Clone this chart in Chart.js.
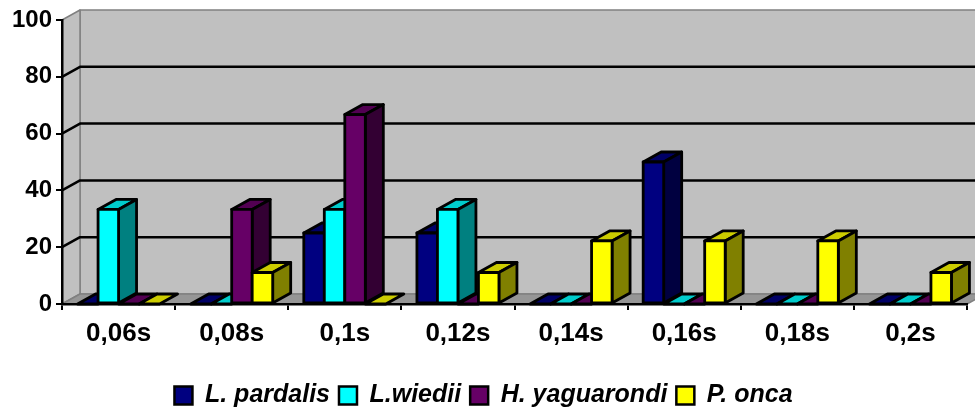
<!DOCTYPE html>
<html>
<head>
<meta charset="utf-8">
<script src="https://cdn.jsdelivr.net/npm/chart.js@4"></script>
<style>
  html, body { margin: 0; padding: 0; background: #fff; }
</style>
</head>
<body>
<canvas id="grafico" width="975" height="411"></canvas>
<script>
// dados (%)
const intervalos = ['0,06s', '0,08s', '0,1s', '0,12s', '0,14s', '0,16s', '0,18s', '0,2s'];
const especies = ['L. pardalis', 'L.wiedii', 'H. yaguarondi', 'P. onca'];
const pardalis = [0, 0, 25, 25, 0, 50, 0, 0];
const wiedii = [33.3, 0, 33.3, 33.3, 0, 0, 0, 0];
const yaguarondi = [0, 33.3, 66.7, 0, 0, 0, 0, 0];
const onca = [0, 11.1, 0, 11.1, 22.2, 22.2, 22.2, 11.1];
const yMin = 0, yMax = 100, yStep = 20;

// cores: frente, topo e lateral das colunas
const frente = ['#000080', '#00ffff', '#660066', '#ffff00'];
const topo = ['#000066', '#00cccc', '#520052', '#cccc00'];
const lado = ['#000040', '#008080', '#330033', '#808000'];
const DX = 18, DY = -10; // profundidade do efeito 3D

function poligono(ctx, pts, fill, stroke) {
  ctx.beginPath();
  ctx.moveTo(pts[0][0], pts[0][1]);
  for (let i = 1; i < pts.length; i++) ctx.lineTo(pts[i][0], pts[i][1]);
  ctx.closePath();
  ctx.fillStyle = fill;
  ctx.fill();
  if (stroke) ctx.strokeStyle = stroke;
  ctx.stroke();
}

const caixa3d = {
  id: 'caixa3d',
  beforeDraw(chart) {
    const { ctx, chartArea: a, scales: { y } } = chart;
    ctx.save();
    ctx.lineJoin = 'round';
    ctx.lineWidth = 1.5;
    // parede do fundo
    poligono(ctx, [[a.left + DX, a.top + DY], [a.right + DX, a.top + DY], [a.right + DX, a.bottom + DY], [a.left + DX, a.bottom + DY]], '#c0c0c0', '#808080');
    // parede lateral
    poligono(ctx, [[a.left, a.top], [a.left + DX, a.top + DY], [a.left + DX, a.bottom + DY], [a.left, a.bottom]], '#c0c0c0', '#808080');
    // piso
    poligono(ctx, [[a.left, a.bottom], [a.right, a.bottom], [a.right + DX, a.bottom + DY], [a.left + DX, a.bottom + DY]], '#969696', '#808080');
    // linhas de grade
    ctx.strokeStyle = '#000';
    ctx.lineWidth = 2.5;
    y.ticks.forEach(t => {
      if (t.value <= yMin || t.value >= yMax) return;
      const py = y.getPixelForValue(t.value);
      ctx.beginPath();
      ctx.moveTo(a.left, py);
      ctx.lineTo(a.left + DX, py + DY);
      ctx.lineTo(a.right + DX, py + DY);
      ctx.stroke();
    });
    ctx.restore();
  },
  beforeDatasetsDraw(chart) {
    const { ctx } = chart;
    const metas = chart.data.datasets.map((_, i) => chart.getDatasetMeta(i));
    ctx.save();
    ctx.lineWidth = 2.8;
    ctx.strokeStyle = '#000';
    ctx.lineJoin = 'round';
    for (let i = 0; i < intervalos.length; i++) {
      metas.forEach((meta, d) => {
        const { x, y, base, width } = meta.data[i].getProps(['x', 'y', 'base', 'width'], true);
        const l = x - width / 2, r = x + width / 2;
        const alto = Math.min(y, base);
        poligono(ctx, [[l, alto], [r, alto], [r + DX, alto + DY], [l + DX, alto + DY]], topo[d]);
        if (base - alto > 0.5) {
          poligono(ctx, [[r, alto], [r + DX, alto + DY], [r + DX, base + DY], [r, base]], lado[d]);
          poligono(ctx, [[l, alto], [r, alto], [r, base], [l, base]], frente[d]);
        }
      });
    }
    ctx.restore();
    return false;
  }
};

Chart.defaults.font.family = '"Liberation Sans", Arial, sans-serif';
Chart.defaults.color = '#000';

const series = [pardalis, wiedii, yaguarondi, onca];

new Chart(document.getElementById('grafico').getContext('2d'), {
  type: 'bar',
  data: {
    labels: intervalos,
    datasets: series.map((valores, d) => ({
      label: especies[d],
      data: valores,
      backgroundColor: frente[d],
      borderColor: '#000',
      borderWidth: 2.5,
      categoryPercentage: 0.725,
      barPercentage: 1
    }))
  },
  options: {
    responsive: false,
    animation: false,
    devicePixelRatio: 1,
    layout: { padding: { top: 20, right: 8, bottom: -7, left: 0 } },
    plugins: {
      tooltip: { enabled: false },
      legend: {
        position: 'bottom',
        labels: {
          boxWidth: 18,
          boxHeight: 18,
          padding: 9,
          color: '#000',
          font: { size: 25, weight: 'bold', style: 'italic' }
        }
      }
    },
    scales: {
      x: {
        grid: { drawOnChartArea: false, drawTicks: true, tickLength: 6, color: '#000', lineWidth: 2 },
        border: { color: '#000', width: 2.5 },
        ticks: { color: '#000', font: { size: 26, weight: 'bold' }, padding: 8, maxRotation: 0, autoSkip: false },
        afterFit(s) { s.height = 70; }
      },
      y: {
        min: yMin,
        max: yMax,
        grid: { drawOnChartArea: false, tickLength: 6, color: '#000', lineWidth: 2 },
        border: { color: '#000', width: 2.5 },
        ticks: { stepSize: yStep, color: '#000', font: { size: 24, weight: 'bold' }, padding: 4 },
        afterFit(s) { s.width = 62; }
      }
    }
  },
  plugins: [caixa3d]
});
</script>
</body>
</html>
